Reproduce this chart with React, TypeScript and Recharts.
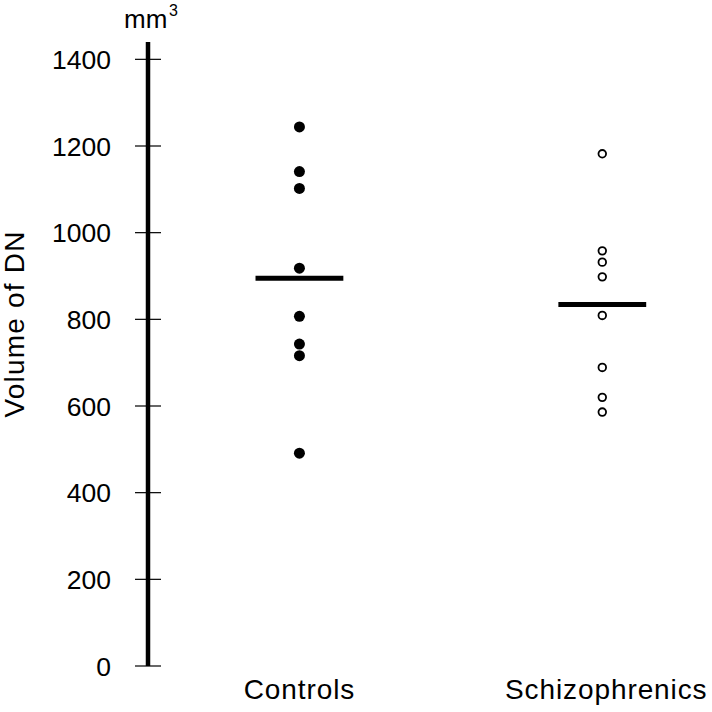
import { ScatterChart, Scatter, XAxis, YAxis, ReferenceLine } from 'recharts';

// group positions on the numeric x axis
const GROUP_X = [1, 3];
const GROUP_NAMES = ['Controls', 'Schizophrenics'];

// DN volumes (mm³)
const controls = [1244, 1141, 1102, 918, 807, 743, 716, 491];
const schizophrenics = [1182, 958, 932, 898, 809, 689, 620, 586];
const groupMeans = [895, 834];

const yTicks = [0, 200, 400, 600, 800, 1000, 1200, 1400];

const FONT = '"Liberation Sans", Arial, sans-serif';

const controlsData = controls.map((v) => ({ x: GROUP_X[0], y: v }));
const schizoData = schizophrenics.map((v) => ({ x: GROUP_X[1], y: v }));

function YTick({ x, y, payload }: any) {
  return (
    <g>
      <line x1={x - 13} x2={x + 13} y1={y} y2={y} stroke="#000" strokeWidth={1.2} />
      <text x={x - 37} y={y} dy="0.36em" textAnchor="end" fontSize={26.5} fontFamily={FONT} fill="#000">
        {payload.value}
      </text>
    </g>
  );
}

function XTick({ x, y, payload }: any) {
  const i = GROUP_X.indexOf(payload.value);
  return (
    <text x={x + (i === 1 ? 4 : 0)} y={y + 33} textAnchor="middle" fontSize={28} letterSpacing={0.9} fontFamily={FONT} fill="#000">
      {GROUP_NAMES[i]}
    </text>
  );
}

function AxisTitles() {
  return (
    <g fontFamily={FONT} fill="#000">
      <text transform="translate(24,324) rotate(-90)" textAnchor="middle" fontSize={28} letterSpacing={1.2}>
        Volume of DN
      </text>
      <text x={124} y={28} fontSize={26}>mm</text>
      <text x={169} y={16} fontSize={16}>3</text>
    </g>
  );
}

export default function App() {
  return (
    <div style={{ position: 'absolute', left: 0, top: 0, background: '#fff' }}>
      <ScatterChart width={712} height={712} margin={{ top: 42, right: 34, bottom: 0, left: 0 }}>
        <XAxis
          type="number"
          dataKey="x"
          domain={[0, 3.5]}
          ticks={GROUP_X}
          tick={<XTick />}
          axisLine={false}
          tickLine={false}
          height={46}
          tickSize={0}
          tickMargin={0}
        />
        <YAxis
          type="number"
          dataKey="y"
          domain={[0, 1440]}
          ticks={yTicks}
          tick={<YTick />}
          tickLine={false}
          tickSize={0}
          tickMargin={0}
          width={148}
          axisLine={{ stroke: '#000', strokeWidth: 4.5 }}
          label={{ content: () => <AxisTitles /> }}
        />
        <ReferenceLine
          segment={[{ x: GROUP_X[0] - 0.29, y: groupMeans[0] }, { x: GROUP_X[0] + 0.29, y: groupMeans[0] }]}
          stroke="#000"
          strokeWidth={5}
        />
        <ReferenceLine
          segment={[{ x: GROUP_X[1] - 0.29, y: groupMeans[1] }, { x: GROUP_X[1] + 0.29, y: groupMeans[1] }]}
          stroke="#000"
          strokeWidth={5}
        />
        <Scatter
          data={controlsData}
          isAnimationActive={false}
          shape={(p: any) => <circle cx={p.cx} cy={p.cy} r={5.5} fill="#000" />}
        />
        <Scatter
          data={schizoData}
          isAnimationActive={false}
          shape={(p: any) => <circle cx={p.cx} cy={p.cy} r={3.8} fill="#fff" stroke="#000" strokeWidth={1.8} />}
        />
      </ScatterChart>
    </div>
  );
}
